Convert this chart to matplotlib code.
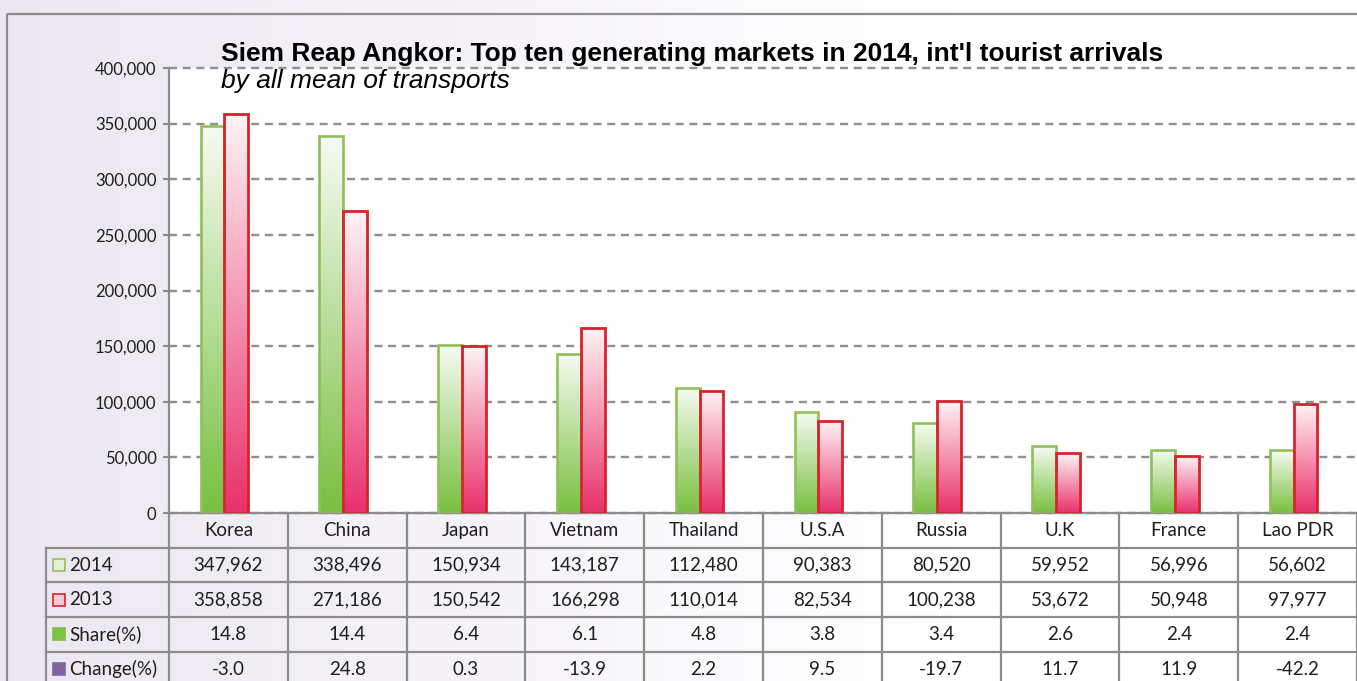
import matplotlib
matplotlib.use("Agg")
import matplotlib.pyplot as plt
import numpy as np
from matplotlib.colors import LinearSegmentedColormap, to_rgb
from matplotlib.patches import Rectangle
from matplotlib.ticker import FuncFormatter

markets = ["Korea", "China", "Japan", "Vietnam", "Thailand", "U.S.A",
           "Russia", "U.K", "France", "Lao PDR"]
arr_2014 = [347962, 338496, 150934, 143187, 112480, 90383, 80520, 59952, 56996, 56602]
arr_2013 = [358858, 271186, 150542, 166298, 110014, 82534, 100238, 53672, 50948, 97977]
share_pct = [14.8, 14.4, 6.4, 6.1, 4.8, 3.8, 3.4, 2.6, 2.4, 2.4]
change_pct = [-3.0, 24.8, 0.3, -13.9, 2.2, 9.5, -19.7, 11.7, 11.9, -42.2]
yticks = [0, 50000, 100000, 150000, 200000, 250000, 300000, 350000, 400000]

title = "Siem Reap Angkor: Top ten generating markets in 2014, int'l tourist arrivals"
subtitle = "by all mean of transports"

W, H = 1357, 681
GREY = "#8c8c8c"
TXT = "#1e1e1e"
FONT = "Lato"

fig = plt.figure(figsize=(W / 100, H / 100), dpi=100)

# background: lavender fading to white + outer frame
bg = fig.add_axes([0, 0, 1, 1], zorder=-10)
bg.set_xlim(0, W)
bg.set_ylim(H, 0)
bg.axis("off")
lav = np.array(to_rgb("#ebe6f0"))
t = np.clip(np.linspace(0, W, 400) / 950, 0, 1) ** 0.9
row = lav[None, :] * (1 - t[:, None]) + t[:, None]
bg.imshow(row[None, :, :], extent=(0, W, H, 0), aspect="auto")
bg.add_patch(Rectangle((7, 14), W, H, fill=False, edgecolor=GREY, lw=1.6))

# main chart area
ax = fig.add_axes([169 / W, 1 - 513 / H, (W - 169) / W, (513 - 68) / H])
ax.set_facecolor("white")
x = np.arange(len(markets))
bw = 0.2
off = -0.034

green_cm = LinearSegmentedColormap.from_list("g", ["#78c03f", "#f7fbf3"])
red_cm = LinearSegmentedColormap.from_list("r", ["#e8306c", "#fff4f6"])

b14 = ax.bar(x + off - bw / 2, arr_2014, bw, facecolor="none",
             edgecolor="#8fc05a", lw=1.9, zorder=3)
b13 = ax.bar(x + off + bw / 2, arr_2013, bw, facecolor="none",
             edgecolor="#d7232b", lw=2.0, zorder=3)

grad = np.linspace(0, 1, 256).reshape(-1, 1)
for bars, cm in [(b14, green_cm), (b13, red_cm)]:
    for rect in bars:
        x0, y0 = rect.get_x(), rect.get_y()
        w, h = rect.get_width(), rect.get_height()
        im = ax.imshow(grad, extent=[x0, x0 + w, y0, y0 + h], origin="lower",
                       aspect="auto", cmap=cm, zorder=2)
        im.set_clip_path(rect)

ax.set_xlim(-0.5, 9.5)
ax.set_ylim(0, 400000)
ax.set_yticks(yticks)
ax.yaxis.set_major_formatter(FuncFormatter(lambda v, p: f"{v:,.0f}"))
ax.set_xticks([])
ax.yaxis.grid(True, color="#8f8f8f", lw=1.7, linestyle=(0, (3.4, 2.4)))
for gl in ax.get_ygridlines():
    gl.set_clip_on(False)
ax.set_axisbelow(True)
for s in ["top", "right"]:
    ax.spines[s].set_visible(False)
for s in ["left", "bottom"]:
    ax.spines[s].set_color(GREY)
    ax.spines[s].set_linewidth(1.6)
ax.tick_params(axis="y", direction="out", length=4, width=1.5, color=GREY,
               labelsize=12, labelcolor=TXT, pad=5)
for lab in ax.get_yticklabels():
    lab.set_fontfamily(FONT)

# data table under the chart
row_h = 34.7
tab = fig.add_axes([169 / W, 0, (W - 169) / W, (H - 513) / H])
tab.set_xlim(-0.5, 9.5)
tab.set_ylim((H - 513) / row_h, 0)
tab.axis("off")
tab.patch.set_alpha(0)

left = -0.5 - (169 - 46) / ((W - 169) / 10)
for r in range(1, 5):
    tab.plot([left, 9.5], [r, r], color=GREY, lw=1.6, clip_on=False)
for k in range(11):
    tab.plot([k - 0.5, k - 0.5], [0, 5], color=GREY, lw=1.6, clip_on=False)
tab.plot([left, left], [1, 5], color=GREY, lw=1.6, clip_on=False)

tkw = dict(ha="center", va="center", fontsize=13.5, color=TXT, fontfamily=FONT,
           clip_on=False)
for i, m in enumerate(markets):
    tab.text(i, 0.5, m, **tkw)
    tab.text(i, 1.5, f"{arr_2014[i]:,}", **tkw)
    tab.text(i, 2.5, f"{arr_2013[i]:,}", **tkw)
    tab.text(i, 3.5, f"{share_pct[i]:.1f}", **tkw)
    tab.text(i, 4.5, f"{change_pct[i]:.1f}", **tkw)

col_w = (W - 169) / 10
row_labels = ["2014", "2013", "Share(%)", "Change(%)"]
sq_face = ["#e3f0d8", "#f9c8cf", "#7dc243", "#8064a2"]
sq_edge = ["#8fc05a", "#d7232b", "#7dc243", "#8064a2"]
for r, (lab, fc, ec) in enumerate(zip(row_labels, sq_face, sq_edge)):
    yc = r + 1.5
    sw = 12 / col_w
    sh = 12 / row_h
    tab.add_patch(Rectangle((left + 7 / col_w, yc - sh / 2), sw, sh,
                            facecolor=fc, edgecolor=ec, lw=1.2, clip_on=False))
    tab.text(left + 23 / col_w, yc, lab, ha="left", va="center", fontsize=13.5,
             color=TXT, fontfamily=FONT, clip_on=False)

# titles
fig.text(221 / W, 1 - 61 / H, title, fontsize=19, fontweight="bold",
         fontfamily="Liberation Sans", color="black", va="baseline")
fig.text(221 / W, 1 - 88 / H, subtitle, fontsize=19, fontstyle="italic",
         fontfamily="Liberation Sans", color="black", va="baseline")

fig.savefig("out.png", dpi=100)
